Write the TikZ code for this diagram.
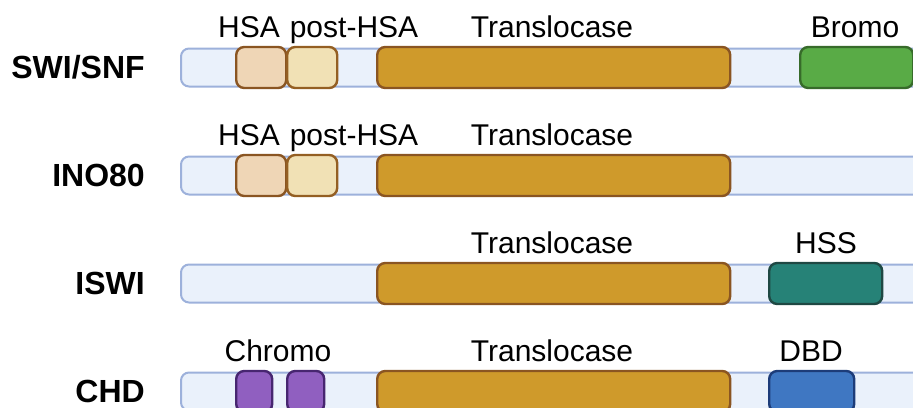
\documentclass[tikz,border=0pt]{standalone}
\usepackage{fontspec}
\setmainfont{Liberation Sans}
\usetikzlibrary{positioning}
\definecolor{bbfill}{HTML}{EAF1FB}
\definecolor{bbline}{HTML}{9DB1DB}
\definecolor{hsafill}{HTML}{EFD6B6}
\definecolor{posthsafill}{HTML}{F1E1B5}
\definecolor{tlfill}{HTML}{CF9A2B}
\definecolor{tlline}{HTML}{8A5522}
\definecolor{bromofill}{HTML}{59AB46}
\definecolor{bromoline}{HTML}{376B2A}
\definecolor{hssfill}{HTML}{268277}
\definecolor{hssline}{HTML}{1F4843}
\definecolor{dbdfill}{HTML}{3F77C2}
\definecolor{dbdline}{HTML}{1D3C79}
\definecolor{chromofill}{HTML}{905FC0}
\definecolor{chromoline}{HTML}{472670}
\tikzstyle{backbone} = [rectangle, draw=bbline, fill=bbfill, line width=1.5pt,
    rounded corners=6pt, minimum height=28.5pt, minimum width=600pt,
    anchor=west, inner sep=0pt]
\tikzstyle{dom} = [rectangle, line width=1.8pt, rounded corners=6pt,
    minimum height=30.75pt, minimum width=#1*0.75pt, anchor=west, inner sep=0pt]
\tikzstyle{lbl} = [anchor=base, inner sep=0pt, font=\fontsize{22.5}{27}\selectfont]
\tikzstyle{family} = [anchor=base east, inner sep=0pt,
    font=\fontsize{24}{28}\selectfont\bfseries]

\begin{document}
\begin{tikzpicture}[x=0.75pt, y=-0.75pt]
		\useasboundingbox (0,0) rectangle (913,407);
		\clip (0,0) rectangle (913,407);

		% SWI/SNF
		\node [family] (swisnf) at (145,78) {SWI/SNF};
		\node [backbone] (bb1) at (180,67.5) {};
		\node [dom=50, draw=tlline, fill=hsafill] (hsa1) at (235,67.5) {};
		\node [dom=50, draw=tlline!85!tlfill, fill=posthsafill] (phsa1) at (286,67.5) {};
		\node [dom=353, draw=tlline, fill=tlfill] (tl1) at (376,67.5) {};
		\node [dom=113, draw=bromoline, fill=bromofill] (bromo1) at (799,67.5) {};
		\node [lbl] (hsalbl1) at (249,37.5) {HSA};
		\node [lbl] (phsalbl1) at (354,37.5) {post-HSA};
		\node [lbl] (tllbl1) at (552,37.5) {Translocase};
		\node [lbl] (bromolbl1) at (855,37.5) {Bromo};

		% INO80
		\node [family] (ino80) at (145,186) {INO80};
		\node [backbone] (bb2) at (180,175.5) {};
		\node [dom=50, draw=tlline, fill=hsafill] (hsa2) at (235,175.5) {};
		\node [dom=50, draw=tlline!85!tlfill, fill=posthsafill] (phsa2) at (286,175.5) {};
		\node [dom=353, draw=tlline, fill=tlfill] (tl2) at (376,175.5) {};
		\node [lbl] (hsalbl2) at (249,145.5) {HSA};
		\node [lbl] (phsalbl2) at (354,145.5) {post-HSA};
		\node [lbl] (tllbl2) at (552,145.5) {Translocase};

		% ISWI
		\node [family] (iswi) at (145,294) {ISWI};
		\node [backbone] (bb3) at (180,283.5) {};
		\node [dom=353, draw=tlline, fill=tlfill] (tl3) at (376,283.5) {};
		\node [dom=113, draw=hssline, fill=hssfill] (hss3) at (768,283.5) {};
		\node [lbl] (tllbl3) at (552,253.5) {Translocase};
		\node [lbl] (hsslbl3) at (826,253.5) {HSS};

		% CHD
		\node [family] (chd) at (145,402) {CHD};
		\node [backbone] (bb4) at (180,391.5) {};
		\node [dom=36, draw=chromoline, fill=chromofill] (chromoa4) at (235,391.5) {};
		\node [dom=37, draw=chromoline, fill=chromofill] (chromob4) at (286,391.5) {};
		\node [dom=353, draw=tlline, fill=tlfill] (tl4) at (376,391.5) {};
		\node [dom=85, draw=dbdline, fill=dbdfill] (dbd4) at (768,391.5) {};
		\node [lbl] (chromolbl4) at (278,361.5) {Chromo};
		\node [lbl] (tllbl4) at (552,361.5) {Translocase};
		\node [lbl] (dbdlbl4) at (811,361.5) {DBD};
	\end{tikzpicture}
\end{document}
